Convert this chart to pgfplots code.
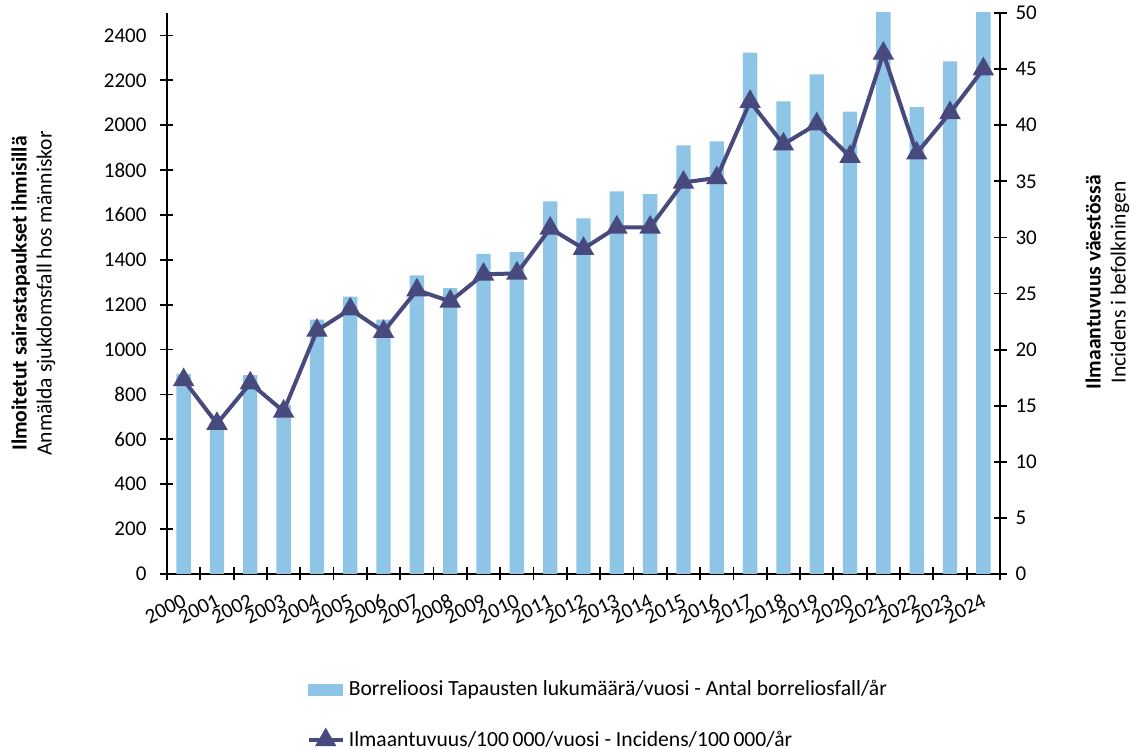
\documentclass[border=0pt]{standalone}
\usepackage{fontspec}
\setmainfont{Carlito}
\usepackage{pgfplots}
\pgfplotsset{compat=1.18}
\definecolor{barblue}{RGB}{142,196,230}
\definecolor{linecol}{RGB}{72,73,125}
\begin{document}
\begin{tikzpicture}
\path[use as bounding box] (-83.5pt,-87.5pt) rectangle (481.5pt,287pt);
\pgfplotsset{
  common/.style={
    width=416.5pt, height=280.5pt, scale only axis,
    xmin=-0.5, xmax=24.5,
    at={(0,0)}, anchor=south west,
    tick align=center, major tick length=6.5pt,
    axis line style={-, line width=0.9pt, black},
    every tick/.style={black, line width=0.9pt},
    ticklabel style={font=\fontsize{10.5}{12}\selectfont},
    /pgf/number format/assume math mode=true,
    /pgf/number format/1000 sep={},
    label style={font=\fontsize{10.8}{12.5}\selectfont, align=center},
  }
}
\begin{axis}[common,
  ymin=0, ymax=2500, ytick={0,200,...,2400},
  axis y line*=left, axis x line*=bottom,
  yticklabel style={xshift=-3.5pt},
  xtick={-0.5,0.5,...,24.5}, xticklabels={},
  extra x ticks={0,...,24},
  extra x tick labels={2000,2001,2002,2003,2004,2005,2006,2007,2008,2009,2010,2011,2012,2013,2014,2015,2016,2017,2018,2019,2020,2021,2022,2023,2024},
  extra x tick style={major tick length=0pt, tick label style={xshift=-0.5pt, yshift=-8pt, rotate=26, anchor=north east, inner sep=1pt}},
  ylabel={\textbf{Ilmoitetut sairastapaukset ihmisillä}\\Anmälda sjukdomsfall hos människor},
  ylabel style={at={(axis description cs:-0.1605,0.5)}, anchor=center},
]
\addplot[ybar, bar width=0.43, fill=barblue, draw=none] coordinates {
(0,892) (1,672) (2,886) (3,752) (4,1134) (5,1236) (6,1134) (7,1331) (8,1274) (9,1427)
(10,1434) (11,1661) (12,1585) (13,1705) (14,1693) (15,1910) (16,1928) (17,2323) (18,2106)
(19,2226) (20,2061) (21,2566) (22,2081) (23,2284) (24,2520)};
\end{axis}
\begin{axis}[common,
  ymin=0, ymax=50, ytick={0,5,...,50},
  axis y line*=right, axis x line=none,
  yticklabel style={xshift=1pt},
  ylabel={\textbf{Ilmaantuvuus väestössä}\\Incidens i befolkningen},
  ylabel style={at={(axis description cs:1.129,0.52)}, anchor=center},
  legend style={at={(axis description cs:0.16,-0.175)}, anchor=north west, draw=none, fill=none,
    row sep=12pt, font=\fontsize{10.8}{12}\selectfont, legend cell align=left},
  legend cell align=left,
]
\addlegendimage{area legend, fill=barblue, draw=barblue}
\addlegendentry{Borrelioosi Tapausten lukumäärä/vuosi - Antal borreliosfall/år}
\addplot[linecol, line width=2pt, mark=triangle*, mark size=4.2pt, mark options={solid}] coordinates {
(0,17.3) (1,13.4) (2,17.0) (3,14.5) (4,21.7) (5,23.6) (6,21.6) (7,25.3) (8,24.3) (9,26.7)
(10,26.8) (11,30.8) (12,29.0) (13,30.9) (14,30.9) (15,34.9) (16,35.3) (17,42.1) (18,38.3)
(19,40.1) (20,37.2) (21,46.4) (22,37.5) (23,41.1) (24,45.0)};
\addlegendentry{Ilmaantuvuus/100\,000/vuosi - Incidens/100\,000/år}
\end{axis}
\end{tikzpicture}
\end{document}
